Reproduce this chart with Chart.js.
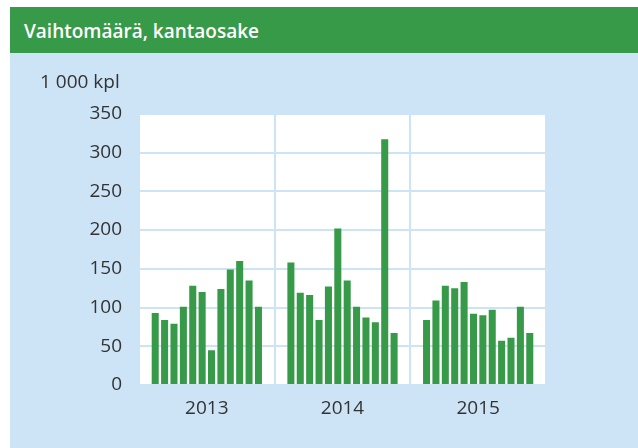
<!DOCTYPE html>
<html lang="fi">
<head>
<meta charset="utf-8">
<script src="https://cdn.jsdelivr.net/npm/chart.js@4"></script>
<style>
    html, body { margin: 0; padding: 0; background: #ffffff; }
    #panel {
        position: absolute; left: 10px; top: 7px;
        width: 628px; height: 441px;
        background: #cce4f6;
    }
    #header {
        height: 46px; background: #379a48; color: #ffffff;
        font-family: "Open Sans", sans-serif; font-weight: 600; font-size: 19px;
        line-height: 48px; padding-left: 14px;
    }
    #wrap { position: relative; width: 628px; height: 395px; }
</style>
</head>
<body>
<div id="panel">
    <div id="header">Vaihtomäärä, kantaosake</div>
    <div id="wrap"><canvas id="volumeChart"></canvas></div>
</div>
<script>
// Vuodet ja kuukausittaiset vaihtomäärät (1 000 kpl)
const years = ['2013', '2014', '2015'];
const vol2013 = [93, 84, 79, 101, 128, 120, 45, 124, 149, 160, 135, 101];
const vol2014 = [158, 119, 116, 84, 127, 202, 135, 101, 87, 81, 317, 67];
const vol2015 = [84, 109, 128, 125, 133, 92, 90, 97, 57, 61, 101, 67];
const yMax = 350;
const yStep = 50;
const unitLabel = '1 000 kpl';

const barGreen = '#379a48';
const gridBlue = '#cce4f6';
const textColor = '#333333';

// valkoinen piirtoalue
const plotBackground = {
    id: 'plotBackground',
    beforeDraw(chart) {
        const { ctx, chartArea } = chart;
        ctx.save();
        ctx.fillStyle = '#ffffff';
        ctx.fillRect(chartArea.left, chartArea.top, chartArea.right - chartArea.left, chartArea.bottom - chartArea.top);
        ctx.restore();
    }
};

document.addEventListener('DOMContentLoaded', function() {
    const perYear = [vol2013, vol2014, vol2015];
    // yksi datasarja per kuukausi, jotta palkit ryhmittyvät vuosittain
    const datasets = vol2013.map(function(_, m) {
        return {
            data: perYear.map(v => v[m]),
            backgroundColor: barGreen,
            borderWidth: 0,
            categoryPercentage: 0.83,
            barPercentage: 0.75
        };
    });

    new Chart(document.getElementById('volumeChart'), {
        type: 'bar',
        data: { labels: years, datasets: datasets },
        options: {
            responsive: true,
            maintainAspectRatio: false,
            animation: false,
            layout: { padding: { left: 30, right: 92, top: 8, bottom: 0 } },
            plugins: {
                legend: { display: false },
                tooltip: { enabled: false },
                title: {
                    display: true,
                    text: unitLabel,
                    align: 'start',
                    color: textColor,
                    font: { family: 'Open Sans', size: 19, weight: 'normal' },
                    padding: { top: 10, bottom: 20 }
                }
            },
            scales: {
                x: {
                    grid: { color: gridBlue, lineWidth: 2, drawTicks: false, offset: true },
                    border: { display: false },
                    ticks: { color: textColor, font: { family: 'Open Sans', size: 19 }, padding: 12 },
                    afterFit: function(scale) { scale.height = 63; }
                },
                y: {
                    min: 0,
                    max: yMax,
                    grid: { color: gridBlue, lineWidth: 2, drawTicks: false },
                    border: { display: false },
                    ticks: { stepSize: yStep, color: textColor, font: { family: 'Open Sans', size: 19 }, padding: 17 },
                    afterFit: function(scale) { scale.width = 99; }
                }
            }
        },
        plugins: [plotBackground]
    });
});
</script>
</body>
</html>
